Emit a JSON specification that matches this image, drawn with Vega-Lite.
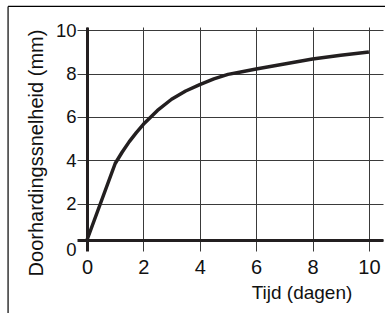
{
  "$schema": "https://vega.github.io/schema/vega-lite/v6.json",
  "width": 296,
  "height": 213,
  "autosize": {"type": "none"},
  "padding": {"left": 87, "top": 27, "right": 2, "bottom": 73},
  "background": "white",
  "config": {"view": {"stroke": null}, "font": "Liberation Sans"},
  "layer": [
    {
      "data": {"values": [
        {"dagen": 0, "mm": 0},
        {"dagen": 1, "mm": 3.85},
        {"dagen": 1.25, "mm": 4.38},
        {"dagen": 1.5, "mm": 4.86},
        {"dagen": 1.75, "mm": 5.28},
        {"dagen": 2, "mm": 5.66},
        {"dagen": 2.5, "mm": 6.3},
        {"dagen": 3, "mm": 6.82},
        {"dagen": 3.5, "mm": 7.2},
        {"dagen": 4, "mm": 7.5},
        {"dagen": 4.5, "mm": 7.76},
        {"dagen": 5, "mm": 7.97},
        {"dagen": 5.5, "mm": 8.09},
        {"dagen": 6, "mm": 8.22},
        {"dagen": 7, "mm": 8.45},
        {"dagen": 8, "mm": 8.68},
        {"dagen": 9, "mm": 8.85},
        {"dagen": 10, "mm": 9.0}
      ]},
      "mark": {"type": "line", "color": "#231f20", "strokeWidth": 3.5, "strokeJoin": "round", "strokeCap": "butt"},
      "encoding": {
        "x": {
          "field": "dagen",
          "type": "quantitative",
          "scale": {"domain": [0, 10.5], "nice": false, "zero": false},
          "axis": {
            "values": [0, 1, 2, 3, 4, 5, 6, 7, 8, 9, 10],
            "grid": true,
            "gridColor": "#3a3a3a",
            "gridWidth": 1,
            "gridOpacity": 1,
            "ticks": true,
            "tickSize": 11,
            "tickColor": {"condition": {"test": "datum.value === 0", "value": "#231f20"}, "value": "#3a3a3a"},
            "tickWidth": {"condition": {"test": "datum.value === 0", "value": 3}, "value": 1},
            "domain": true,
            "domainColor": "#231f20",
            "domainWidth": 3,
            "labelExpr": "datum.value % 2 === 0 ? datum.label : ''",
            "labelFont": "Liberation Sans",
            "labelFontSize": 20,
            "labelColor": "#111111",
            "labelBaseline": "alphabetic",
            "labelPadding": 22,
            "labelFlush": false,
            "labelOverlap": false,
            "title": "Tijd (dagen)",
            "titleFont": "Liberation Sans",
            "titleFontSize": 19,
            "titleFontWeight": "normal",
            "titleColor": "#111111",
            "titleX": 214.5,
            "titleY": 58,
            "titleAlign": "center",
            "titleBaseline": "alphabetic"
          }
        },
        "y": {
          "field": "mm",
          "type": "quantitative",
          "scale": {"domain": [0, 2, 10.16], "range": [213, 176.5, 0], "nice": false, "zero": false},
          "axis": {
            "values": [0, 2, 4, 6, 8, 10],
            "grid": true,
            "gridColor": "#3a3a3a",
            "gridWidth": 1,
            "gridOpacity": 1,
            "ticks": true,
            "tickSize": 10,
            "tickColor": {"condition": {"test": "datum.value === 0", "value": "#231f20"}, "value": "#3a3a3a"},
            "tickWidth": {"condition": {"test": "datum.value === 0", "value": 3}, "value": 1},
            "domain": true,
            "domainColor": "#231f20",
            "domainWidth": 3,
            "labelFont": "Liberation Sans",
            "labelFontSize": 18.5,
            "labelColor": "#111111",
            "labelPadding": 1,
            "labelBaseline": {"condition": {"test": "datum.value === 0", "value": "top"}, "value": "middle"},
            "labelFlush": false,
            "labelOverlap": false,
            "title": "Doorhardingssnelheid (mm)",
            "titleFont": "Liberation Sans",
            "titleFontSize": 20,
            "titleFontWeight": "normal",
            "titleColor": "#111111",
            "titleAngle": 270,
            "titleX": -45,
            "titleY": 125.5,
            "titleAlign": "center",
            "titleBaseline": "alphabetic",
            "titleLimit": 400
          }
        }
      }
    },
    {
      "data": {"values": [{}]},
      "mark": {"type": "rule", "color": "#000000", "strokeWidth": 1.2},
      "encoding": {
        "x": {"datum": -2.8, "type": "quantitative"},
        "x2": {"datum": 10.7},
        "y": {"datum": 11.11, "type": "quantitative"}
      }
    },
    {
      "data": {"values": [{}]},
      "mark": {"type": "rule", "color": "#000000", "strokeWidth": 1.2},
      "encoding": {
        "x": {"datum": -2.8, "type": "quantitative"},
        "y": {"datum": -5, "type": "quantitative"},
        "y2": {"datum": 11.11}
      }
    }
  ]
}
